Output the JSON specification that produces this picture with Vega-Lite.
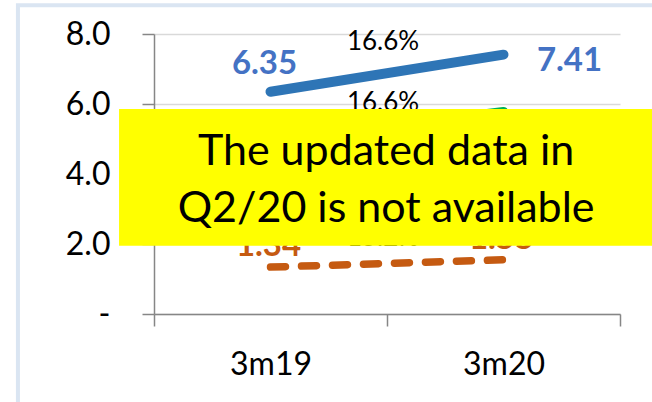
{
  "$schema": "https://vega.github.io/schema/vega-lite/v6.json",
  "autosize": {"type": "none"},
  "padding": {"left": 154, "top": 34, "right": 32, "bottom": 88},
  "width": 466,
  "height": 280,
  "background": "white",
  "config": {"view": {"stroke": null}, "font": "Lato"},
  "datasets": {
    "series": [
      {"series": "Blue", "period": "3m19", "value": 6.35, "growth": "16.6%"},
      {"series": "Blue", "period": "3m20", "value": 7.41, "growth": "16.6%"},
      {"series": "Green", "period": "3m19", "value": 4.95, "growth": "16.6%"},
      {"series": "Green", "period": "3m20", "value": 5.77, "growth": "16.6%"},
      {"series": "Orange", "period": "3m19", "value": 1.34, "growth": "15.2%"},
      {"series": "Orange", "period": "3m20", "value": 1.55, "growth": "15.2%"}
    ],
    "note": [{"text": ["The updated data in", "Q2/20 is not available"]}]
  },
  "resolve": {"scale": {"x": "independent", "y": "independent"}},
  "layer": [
    {
      "data": {"name": "series"},
      "encoding": {
        "x": {
          "field": "period", "type": "nominal",
          "scale": {"paddingInner": 0, "paddingOuter": 0},
          "axis": {"tickBand": "extent", "tickSize": 12, "tickWidth": 1.5, "tickColor": "#868686", "domainColor": "#868686", "domainWidth": 1.5, "labelFontSize": 32, "labelFont": "Lato", "labelColor": "#000000", "labelPadding": 23, "labelAngle": 0, "grid": false, "title": null}
        },
        "y": {
          "field": "value", "type": "quantitative",
          "scale": {"domain": [0, 8]},
          "axis": {"values": [0, 2, 4, 6, 8], "labelExpr": "datum.value == 0 ? '-' : format(datum.value, '.1f')", "grid": true, "gridColor": "#D9D9D9", "gridWidth": 1.5, "domainColor": "#868686", "domainWidth": 1.5, "tickColor": "#868686", "tickSize": 12, "tickWidth": 1.5, "labelFontSize": 32, "labelFont": "Lato", "labelColor": "#000000", "labelPadding": 32, "title": null}
        }
      },
      "layer": [
        {
          "transform": [{"filter": "datum.series !== 'Orange'"}],
          "mark": {"type": "line", "strokeWidth": 10, "strokeCap": "round", "clip": false},
          "encoding": {"stroke": {"field": "series", "type": "nominal", "scale": {"domain": ["Blue", "Green", "Orange"], "range": ["#2E75B6", "#00B050", "#C55A11"]}, "legend": null}}
        },
        {
          "transform": [{"filter": "datum.series === 'Orange'"}],
          "mark": {"type": "line", "strokeWidth": 7.5, "strokeCap": "round", "strokeDash": [15, 16], "clip": false},
          "encoding": {"stroke": {"field": "series", "type": "nominal", "legend": null}}
        },
        {
          "transform": [{"filter": "datum.series === 'Blue' && datum.period === '3m19'"}],
          "mark": {"type": "text", "fontSize": 33, "fontWeight": "bold", "font": "Lato", "align": "center", "baseline": "middle", "dy": -28, "dx": -6},
          "encoding": {
            "text": {"field": "value", "type": "quantitative", "format": ".2f"},
            "fill": {"field": "series", "type": "nominal", "scale": {"domain": ["Blue", "Green", "Orange"], "range": ["#4472C4", "#00B050", "#C55A11"]}, "legend": null}
          }
        },
        {
          "transform": [{"filter": "datum.series === 'Blue' && datum.period === '3m20'"}],
          "mark": {"type": "text", "fontSize": 33, "fontWeight": "bold", "font": "Lato", "align": "center", "baseline": "middle", "dy": 6, "dx": 66},
          "encoding": {
            "text": {"field": "value", "type": "quantitative", "format": ".2f"},
            "fill": {"field": "series", "type": "nominal", "legend": null}
          }
        },
        {
          "transform": [{"filter": "datum.series === 'Green'"}],
          "mark": {"type": "text", "fontSize": 33, "fontWeight": "bold", "font": "Lato", "align": "center", "baseline": "middle", "dy": 30, "dx": -4},
          "encoding": {
            "text": {"field": "value", "type": "quantitative", "format": ".2f"},
            "fill": {"field": "series", "type": "nominal", "legend": null}
          }
        },
        {
          "transform": [{"filter": "datum.series === 'Orange'"}],
          "mark": {"type": "text", "fontSize": 33, "fontWeight": "bold", "font": "Lato", "align": "center", "baseline": "middle", "dy": -21, "dx": -2},
          "encoding": {
            "text": {"field": "value", "type": "quantitative", "format": ".2f"},
            "fill": {"field": "series", "type": "nominal", "legend": null}
          }
        },
        {
          "transform": [{"filter": "datum.series === 'Blue'"}, {"aggregate": [{"op": "mean", "field": "value", "as": "mid"}], "groupby": ["series", "growth"]}],
          "mark": {"type": "text", "fontSize": 26, "font": "Lato", "color": "#000000", "align": "center", "baseline": "middle", "dy": -31, "dx": -4},
          "encoding": {
            "x": {"datum": "3m20", "type": "nominal", "bandPosition": 0},
            "y": {"field": "mid", "type": "quantitative"},
            "text": {"field": "growth", "type": "nominal"}
          }
        },
        {
          "transform": [{"filter": "datum.series === 'Green'"}, {"aggregate": [{"op": "mean", "field": "value", "as": "mid"}], "groupby": ["series", "growth"]}],
          "mark": {"type": "text", "fontSize": 26, "font": "Lato", "color": "#000000", "align": "center", "baseline": "middle", "dy": -23, "dx": -4},
          "encoding": {
            "x": {"datum": "3m20", "type": "nominal", "bandPosition": 0},
            "y": {"field": "mid", "type": "quantitative"},
            "text": {"field": "growth", "type": "nominal"}
          }
        },
        {
          "transform": [{"filter": "datum.series === 'Orange'"}, {"aggregate": [{"op": "mean", "field": "value", "as": "mid"}], "groupby": ["series", "growth"]}],
          "mark": {"type": "text", "fontSize": 26, "font": "Lato", "color": "#000000", "align": "center", "baseline": "middle", "dy": -25, "dx": -4},
          "encoding": {
            "x": {"datum": "3m20", "type": "nominal", "bandPosition": 0},
            "y": {"field": "mid", "type": "quantitative"},
            "text": {"field": "growth", "type": "nominal"}
          }
        }
      ]
    },
    {
      "data": {"name": "note"},
      "encoding": {
        "x": {"datum": -0.15, "type": "quantitative", "scale": {"domain": [0, 2], "nice": false, "zero": false}, "axis": null},
        "y": {"datum": 5.857, "type": "quantitative", "scale": {"domain": [0, 8], "nice": false, "zero": false}, "axis": null}
      },
      "layer": [
        {
          "mark": {"type": "rect", "fill": "#FFFF00", "clip": false},
          "encoding": {
            "x2": {"datum": 2.2},
            "y2": {"datum": 1.95}
          }
        },
        {
          "mark": {"type": "text", "fontSize": 43, "font": "Lato", "color": "#000000", "align": "center", "baseline": "alphabetic", "lineHeight": 57, "clip": false},
          "encoding": {
            "x": {"datum": 0.996, "type": "quantitative"},
            "y": {"datum": 4.257, "type": "quantitative"},
            "text": {"field": "text"}
          }
        },
        {
          "mark": {"type": "rect", "fill": null, "stroke": "#DAE5F2", "strokeWidth": 4, "clip": false},
          "encoding": {
            "x": {"datum": -0.584, "type": "quantitative"},
            "x2": {"datum": 2.5},
            "y": {"datum": 8.82, "type": "quantitative"},
            "y2": {"datum": -3}
          }
        }
      ]
    }
  ]
}
